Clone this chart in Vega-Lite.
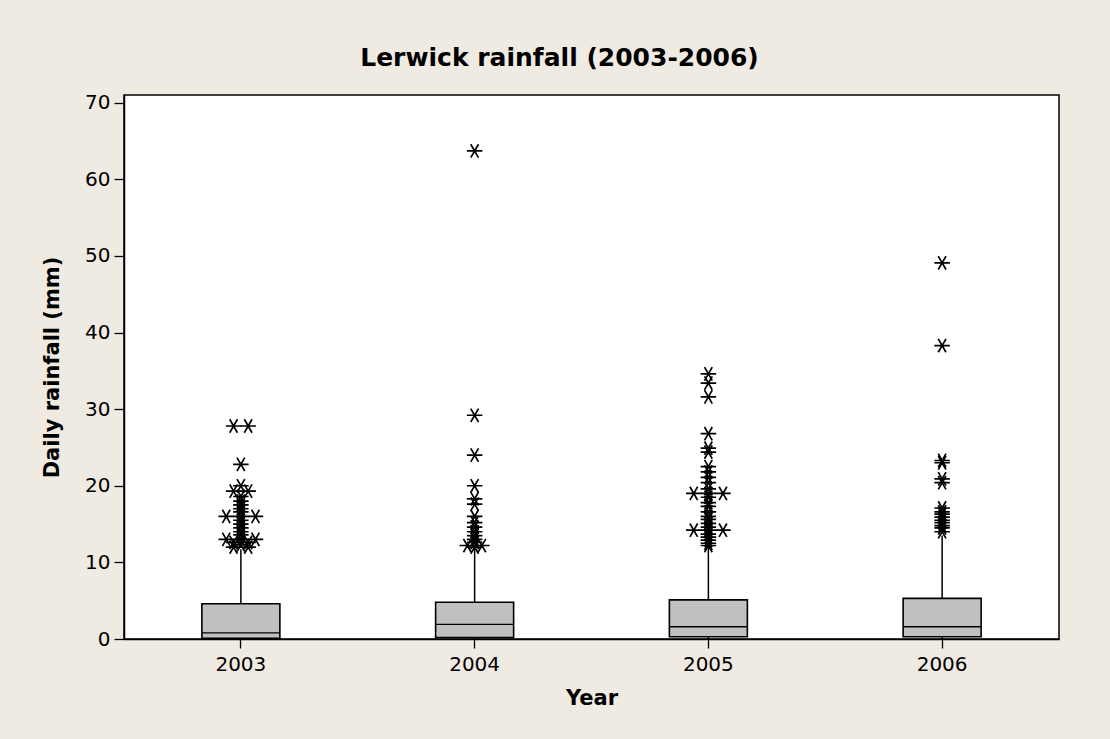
{
  "$schema": "https://vega.github.io/schema/vega-lite/v6.json",
  "width": 935,
  "height": 544,
  "autosize": {"type": "none"},
  "padding": {"left": 124, "top": 95, "right": 51, "bottom": 100},
  "title": {"text": "Lerwick rainfall (2003-2006)", "font": "DejaVu Sans", "fontSize": 25, "fontWeight": "bold", "color": "black", "offset": 22, "dx": -32},
  "datasets": {
    "summary": [
      {"year": "2003", "low": 0, "q1": 0.1, "median": 0.8, "q3": 4.6, "upper": 11.7},
      {"year": "2004", "low": 0, "q1": 0.2, "median": 1.9, "q3": 4.8, "upper": 11.8},
      {"year": "2005", "low": 0, "q1": 0.3, "median": 1.6, "q3": 5.1, "upper": 12.0},
      {"year": "2006", "low": 0, "q1": 0.3, "median": 1.6, "q3": 5.3, "upper": 13.5}
    ],
    "outliers": [
      {"year": "2003", "value": 27.8}, {"year": "2003", "value": 27.8}, {"year": "2003", "value": 22.8},
      {"year": "2003", "value": 20.0}, {"year": "2003", "value": 19.3}, {"year": "2003", "value": 19.3},
      {"year": "2003", "value": 18.6}, {"year": "2003", "value": 18.0}, {"year": "2003", "value": 17.5},
      {"year": "2003", "value": 17.0}, {"year": "2003", "value": 16.6}, {"year": "2003", "value": 16.0},
      {"year": "2003", "value": 16.0}, {"year": "2003", "value": 16.0}, {"year": "2003", "value": 15.5},
      {"year": "2003", "value": 15.0}, {"year": "2003", "value": 14.5}, {"year": "2003", "value": 14.0},
      {"year": "2003", "value": 13.6}, {"year": "2003", "value": 13.0}, {"year": "2003", "value": 13.0},
      {"year": "2003", "value": 13.0}, {"year": "2003", "value": 12.6}, {"year": "2003", "value": 12.6},
      {"year": "2003", "value": 12.3}, {"year": "2003", "value": 12.0}, {"year": "2003", "value": 12.0},
      {"year": "2004", "value": 63.7}, {"year": "2004", "value": 29.2}, {"year": "2004", "value": 24.0},
      {"year": "2004", "value": 20.0}, {"year": "2004", "value": 18.3}, {"year": "2004", "value": 17.6},
      {"year": "2004", "value": 16.0}, {"year": "2004", "value": 15.2}, {"year": "2004", "value": 14.6},
      {"year": "2004", "value": 14.0}, {"year": "2004", "value": 13.5}, {"year": "2004", "value": 13.0},
      {"year": "2004", "value": 12.6}, {"year": "2004", "value": 12.2}, {"year": "2004", "value": 12.2},
      {"year": "2004", "value": 12.0},
      {"year": "2005", "value": 34.6}, {"year": "2005", "value": 33.4}, {"year": "2005", "value": 31.6},
      {"year": "2005", "value": 26.8}, {"year": "2005", "value": 24.9}, {"year": "2005", "value": 24.4},
      {"year": "2005", "value": 22.5}, {"year": "2005", "value": 21.8}, {"year": "2005", "value": 21.1},
      {"year": "2005", "value": 20.4}, {"year": "2005", "value": 19.6}, {"year": "2005", "value": 19.0},
      {"year": "2005", "value": 19.0}, {"year": "2005", "value": 19.0}, {"year": "2005", "value": 18.5},
      {"year": "2005", "value": 17.8}, {"year": "2005", "value": 17.3}, {"year": "2005", "value": 16.6},
      {"year": "2005", "value": 16.0}, {"year": "2005", "value": 15.6}, {"year": "2005", "value": 15.1},
      {"year": "2005", "value": 14.6}, {"year": "2005", "value": 14.2}, {"year": "2005", "value": 14.2},
      {"year": "2005", "value": 14.2}, {"year": "2005", "value": 13.7}, {"year": "2005", "value": 13.3},
      {"year": "2005", "value": 12.9}, {"year": "2005", "value": 12.5}, {"year": "2005", "value": 12.2},
      {"year": "2006", "value": 49.1}, {"year": "2006", "value": 38.3}, {"year": "2006", "value": 23.3},
      {"year": "2006", "value": 23.0}, {"year": "2006", "value": 20.9}, {"year": "2006", "value": 20.4},
      {"year": "2006", "value": 17.1}, {"year": "2006", "value": 16.6}, {"year": "2006", "value": 16.3},
      {"year": "2006", "value": 15.9}, {"year": "2006", "value": 15.5}, {"year": "2006", "value": 15.2},
      {"year": "2006", "value": 14.8}, {"year": "2006", "value": 14.5}, {"year": "2006", "value": 14.0}
    ]
  },
  "encoding": {
    "x": {"field": "year", "type": "nominal", "title": "Year",
      "scale": {"paddingInner": 0, "paddingOuter": 0},
      "axis": {"labelAngle": 0, "tickSize": 9, "labelPadding": 6, "titlePadding": 13}}
  },
  "layer": [
    {
      "data": {"name": "summary"},
      "mark": {"type": "rule", "stroke": "black", "strokeWidth": 1.5},
      "encoding": {
        "y": {"field": "q3", "type": "quantitative", "title": "Daily rainfall (mm)",
          "scale": {"domain": [0, 71], "nice": false, "zero": true},
          "axis": {"values": [0, 10, 20, 30, 40, 50, 60, 70], "tickSize": 10, "labelPadding": 4, "titlePadding": 22}},
        "y2": {"field": "upper"}
      }
    },
    {
      "data": {"name": "summary"},
      "mark": {"type": "rule", "stroke": "black", "strokeWidth": 1.5},
      "encoding": {
        "y": {"field": "low", "type": "quantitative", "title": "Daily rainfall (mm)"},
        "y2": {"field": "q1"}
      }
    },
    {
      "data": {"name": "summary"},
      "mark": {"type": "bar", "width": 78, "fill": "#C0C0C0", "stroke": "black", "strokeWidth": 1.6},
      "encoding": {
        "y": {"field": "q1", "type": "quantitative", "title": "Daily rainfall (mm)"},
        "y2": {"field": "q3"}
      }
    },
    {
      "data": {"name": "summary"},
      "mark": {"type": "bar", "width": 78, "fill": null, "stroke": "black", "strokeWidth": 1.3},
      "encoding": {
        "y": {"field": "median", "type": "quantitative", "title": "Daily rainfall (mm)"},
        "y2": {"field": "median"}
      }
    },
    {
      "data": {"name": "outliers"},
      "transform": [
        {"window": [{"op": "row_number", "as": "idx"}], "groupby": ["year", "value"]},
        {"joinaggregate": [{"op": "count", "as": "n"}], "groupby": ["year", "value"]},
        {"calculate": "datum.idx - (datum.n + 1) / 2", "as": "slot"}
      ],
      "mark": {"type": "point", "shape": "M-1,0L1,0M-0.5,-0.866L0.5,0.866M0.5,-0.866L-0.5,0.866", "size": 240, "filled": false, "stroke": "black", "strokeWidth": 1.7, "opacity": 1},
      "encoding": {
        "y": {"field": "value", "type": "quantitative", "title": "Daily rainfall (mm)"},
        "xOffset": {"field": "slot", "type": "quantitative", "scale": {"domain": [-8, 8]}}
      }
    }
  ],
  "config": {
    "background": "#EFEBE2",
    "view": {"fill": "white", "stroke": "black", "strokeWidth": 1.5},
    "axis": {
      "grid": false,
      "domainColor": "black",
      "domainWidth": 1.5,
      "tickColor": "black",
      "tickWidth": 1.3,
      "labelFont": "DejaVu Sans",
      "labelFontSize": 20,
      "labelColor": "black",
      "titleFont": "DejaVu Sans",
      "titleFontSize": 21,
      "titleFontWeight": "bold",
      "titleColor": "black"
    }
  }
}
